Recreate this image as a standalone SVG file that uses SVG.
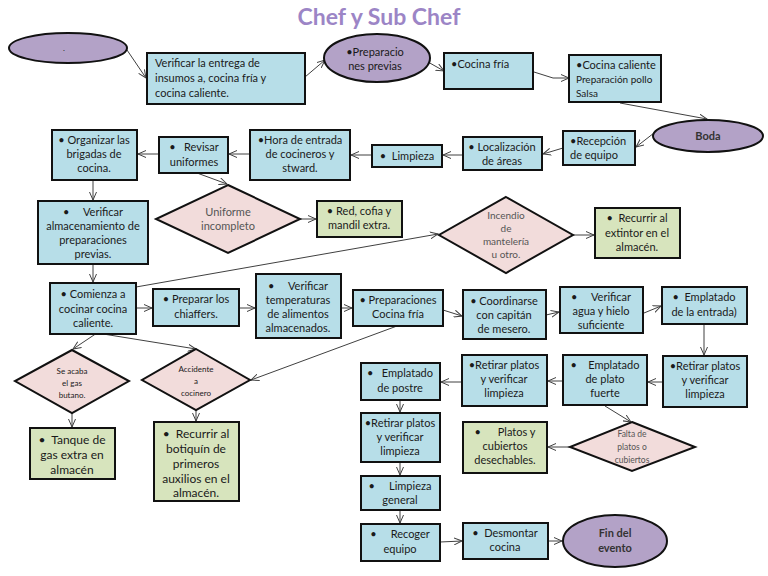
<svg xmlns="http://www.w3.org/2000/svg" width="768" height="576" viewBox="0 0 768 576" xml:space="preserve">
<defs>
<marker id="ar" markerWidth="9" markerHeight="8" refX="8" refY="4" orient="auto" markerUnits="userSpaceOnUse">
<path d="M0,0.5 L8,4 L0,7.5" fill="none" stroke="#404040" stroke-width="1"/>
</marker>
<style>
.b{fill:#b7dee8;stroke:#111;stroke-width:2}
.g{fill:#d7e4bd;stroke:#111;stroke-width:2}
.d{fill:#f2dcdb;stroke:#111;stroke-width:2}
.e{fill:#b3a2c7;stroke:#111;stroke-width:2}
text{font-family:Lato,"Liberation Sans",sans-serif;font-size:11px;fill:#1a1a1a;white-space:pre}
.c{text-anchor:middle}
.dt{fill:#555;text-anchor:middle}
.s{font-size:8px}
.bd{font-weight:bold}
#conn line,#conn polyline{stroke:#404040;stroke-width:1;fill:none;marker-end:url(#ar)}
</style>
</defs>
<rect width="768" height="576" fill="#fff"/>
<text x="379" y="25" class="c" style="font-size:23px;font-weight:bold;fill:#9c85c6">Chef y Sub Chef</text>
<g id="conn">
<line x1="127" y1="50" x2="146" y2="78"/>
<line x1="305" y1="77" x2="325" y2="60"/>
<line x1="428" y1="62" x2="444" y2="71"/>
<polyline points="534,72 553,78 569,78"/>
<line x1="620" y1="103" x2="707" y2="119"/>
<line x1="654" y1="133" x2="636" y2="147"/>
<line x1="563" y1="148" x2="543" y2="154"/>
<line x1="463" y1="155" x2="443" y2="155"/>
<line x1="372" y1="155" x2="351" y2="155"/>
<line x1="250" y1="154" x2="229" y2="154"/>
<line x1="159" y1="154" x2="138" y2="154"/>
<line x1="197" y1="173" x2="227" y2="184"/>
<line x1="93" y1="180" x2="93" y2="200"/>
<line x1="300" y1="219" x2="316" y2="219"/>
<line x1="93" y1="264" x2="93" y2="282"/>
<line x1="136" y1="287" x2="438" y2="234"/>
<line x1="573" y1="235" x2="594" y2="235"/>
<line x1="136" y1="308" x2="152" y2="308"/>
<line x1="239" y1="308" x2="255" y2="308"/>
<line x1="341" y1="308" x2="352" y2="308"/>
<line x1="443" y1="310" x2="462" y2="316"/>
<line x1="546" y1="315" x2="559" y2="312"/>
<line x1="644" y1="313" x2="661" y2="306"/>
<line x1="704" y1="324" x2="704" y2="355"/>
<line x1="663" y1="382" x2="648" y2="382"/>
<line x1="563" y1="381" x2="548" y2="381"/>
<line x1="462" y1="382" x2="441" y2="382"/>
<line x1="400" y1="400" x2="400" y2="412"/>
<line x1="400" y1="462" x2="400" y2="475"/>
<line x1="400" y1="510" x2="400" y2="523"/>
<line x1="440" y1="542" x2="462" y2="541"/>
<line x1="548" y1="541" x2="562" y2="541"/>
<line x1="605" y1="406" x2="631" y2="422"/>
<line x1="570" y1="447" x2="548" y2="447"/>
<line x1="97" y1="333" x2="73" y2="349"/>
<line x1="97" y1="333" x2="196" y2="349"/>
<line x1="397" y1="326" x2="251" y2="380"/>
<line x1="72" y1="413" x2="72" y2="427"/>
<line x1="196" y1="410" x2="196" y2="421"/>
</g>
<g id="n1"><ellipse class="e" cx="68" cy="48" rx="59" ry="15"/><text x="64" y="51" class="c s">.</text></g>
<g id="n2"><rect class="b" x="147" y="53" width="158" height="51"/><text x="155" y="67">Verificar la entrega de</text><text x="155" y="82">insumos a, cocina fría y</text><text x="155" y="97">cocina caliente.</text></g>
<g id="n3"><ellipse class="e" cx="377" cy="58" rx="53" ry="24"/><text x="375" y="56" class="c">•Preparacio</text><text x="375" y="70" class="c">nes previas</text></g>
<g id="n4"><rect class="b" x="444" y="53" width="89" height="36"/><text x="451" y="68">•Cocina fría</text></g>
<g id="n5"><rect class="b" x="569" y="55" width="92" height="47"/><text x="576" y="69">•Cocina caliente</text><text x="576" y="83" style="font-size:10px">Preparación pollo</text><text x="576" y="97" style="font-size:10px">Salsa</text></g>
<g id="n6"><ellipse class="e" cx="708" cy="136" rx="55" ry="16"/><text x="708" y="140" class="c bd" style="fill:#333">Boda</text></g>
<g id="n7"><rect class="b" x="563" y="131" width="72" height="34"/><text x="570" y="145">•Recepción</text><text x="570" y="159">de equipo</text></g>
<g id="n8"><rect class="b" x="463" y="137" width="79" height="33"/><text x="502" y="151" class="c">• Localización</text><text x="502" y="165" class="c">de áreas</text></g>
<g id="n9"><rect class="b" x="372" y="145" width="70" height="22"/><text x="407" y="160" class="c">•  Limpieza</text></g>
<g id="n10"><rect class="b" x="250" y="130" width="100" height="50"/><text x="300" y="144" class="c">•Hora de entrada</text><text x="300" y="158" class="c">de cocineros y</text><text x="300" y="172" class="c">stward.</text></g>
<g id="n11"><rect class="b" x="159" y="137" width="69" height="36"/><text x="194" y="151" class="c">•   Revisar</text><text x="194" y="166" class="c">uniformes</text></g>
<g id="n12"><rect class="b" x="52" y="130" width="85" height="50"/><text x="94" y="144" class="c">• Organizar las</text><text x="94" y="158" class="c">brigadas de</text><text x="94" y="172" class="c">cocina.</text></g>
<g id="n13"><polygon class="d" points="228,185 300,219 228,253 156,219"/><text x="228" y="216" class="dt">Uniforme</text><text x="228" y="230" class="dt">incompleto</text></g>
<g id="n14"><rect class="g" x="317" y="201" width="85" height="36"/><text x="359" y="215" class="c">• Red, cofia y</text><text x="359" y="229" class="c">mandil extra.</text></g>
<g id="n15"><rect class="b" x="38" y="201" width="110" height="63"/><text x="93" y="216" class="c">•     Verificar</text><text x="93" y="230" class="c">almacenamiento de</text><text x="93" y="244" class="c">preparaciones</text><text x="93" y="258" class="c">previas.</text></g>
<g id="n16"><rect class="b" x="50" y="283" width="86" height="51"/><text x="93" y="298" class="c">• Comienza a</text><text x="93" y="313" class="c">cocinar cocina</text><text x="93" y="327" class="c">caliente.</text></g>
<g id="n17"><rect class="b" x="153" y="289" width="86" height="37"/><text x="196" y="303" class="c">• Preparar los</text><text x="196" y="318" class="c">chiaffers.</text></g>
<g id="n18"><rect class="b" x="256" y="274" width="85" height="64"/><text x="298" y="290" class="c">•     Verificar</text><text x="298" y="304" class="c">temperaturas</text><text x="298" y="318" class="c">de alimentos</text><text x="298" y="332" class="c">almacenados.</text></g>
<g id="n19"><rect class="b" x="353" y="290" width="90" height="36"/><text x="398" y="304" class="c">• Preparaciones</text><text x="398" y="318" class="c">Cocina fría</text></g>
<g id="n20"><rect class="b" x="463" y="290" width="83" height="49"/><text x="504" y="305" class="c">• Coordinarse</text><text x="504" y="319" class="c">con capitán</text><text x="504" y="333" class="c">de mesero.</text></g>
<g id="n21"><rect class="b" x="560" y="287" width="83" height="46"/><text x="601" y="301" class="c">•     Verificar</text><text x="601" y="315" class="c">agua y hielo</text><text x="601" y="329" class="c">suficiente</text></g>
<g id="n22"><rect class="b" x="662" y="287" width="85" height="37"/><text x="704" y="301" class="c">•  Emplatado</text><text x="704" y="316" class="c">de la entrada)</text></g>
<g id="n23"><polygon class="d" points="506,197 573,235 506,273 439,235"/><text x="506" y="219" class="dt" style="font-size:10px">Incendio</text><text x="506" y="232" class="dt" style="font-size:10px">de</text><text x="506" y="245" class="dt" style="font-size:10px">mantelería</text><text x="506" y="258" class="dt" style="font-size:10px">u otro.</text></g>
<g id="n24"><rect class="g" x="595" y="208" width="85" height="50"/><text x="637" y="222" class="c">•  Recurrir al</text><text x="637" y="237" class="c">extintor en el</text><text x="637" y="251" class="c">almacén.</text></g>
<g id="n25"><polygon class="d" points="72,350 129,381 72,413 15,381"/><text x="72" y="374" class="c s">Se acaba</text><text x="72" y="386" class="c s">el gas</text><text x="72" y="398" class="c s">butano.</text></g>
<g id="n26"><polygon class="d" points="196,349 250,380 196,410 142,380"/><text x="196" y="372" class="c s">Accidente</text><text x="196" y="384" class="c s">a</text><text x="196" y="396" class="c s">cocinero</text></g>
<g id="n27"><rect class="g" x="30" y="428" width="85" height="51"/><text x="72" y="444" class="c" style="font-size:12px">•  Tanque de</text><text x="72" y="459" class="c" style="font-size:12px">gas extra en</text><text x="72" y="474" class="c" style="font-size:12px">almacén</text></g>
<g id="n28"><rect class="g" x="154" y="422" width="85" height="79"/><text x="196" y="438" class="c" style="font-size:12px">•  Recurrir al</text><text x="196" y="453" class="c" style="font-size:12px">botiquín de</text><text x="196" y="468" class="c" style="font-size:12px">primeros</text><text x="196" y="483" class="c" style="font-size:12px">auxilios en el</text><text x="196" y="497" class="c" style="font-size:12px">almacén.</text></g>
<g id="n29"><rect class="b" x="663" y="356" width="84" height="51"/><text x="705" y="370" class="c">•Retirar platos</text><text x="705" y="384" class="c">y verificar</text><text x="705" y="398" class="c">limpieza</text></g>
<g id="n30"><rect class="b" x="563" y="355" width="84" height="50"/><text x="605" y="369" class="c">•    Emplatado</text><text x="605" y="383" class="c">de plato</text><text x="605" y="397" class="c">fuerte</text></g>
<g id="n31"><rect class="b" x="462" y="355" width="85" height="51"/><text x="504" y="369" class="c">•Retirar platos</text><text x="504" y="383" class="c">y verificar</text><text x="504" y="397" class="c">limpieza</text></g>
<g id="n32"><rect class="b" x="361" y="363" width="79" height="37"/><text x="400" y="377" class="c">•   Emplatado</text><text x="400" y="392" class="c">de postre</text></g>
<g id="n33"><rect class="b" x="361" y="413" width="79" height="49"/><text x="400" y="427" class="c">•Retirar platos</text><text x="400" y="441" class="c">y verificar</text><text x="400" y="455" class="c">limpieza</text></g>
<g id="n34"><rect class="b" x="361" y="476" width="79" height="34"/><text x="400" y="490" class="c">•     Limpieza</text><text x="400" y="504" class="c">general</text></g>
<g id="n35"><rect class="b" x="361" y="524" width="79" height="37"/><text x="400" y="538" class="c">•     Recoger</text><text x="400" y="553" class="c">equipo</text></g>
<g id="n36"><rect class="b" x="463" y="523" width="85" height="36"/><text x="505" y="537" class="c">•  Desmontar</text><text x="505" y="551" class="c">cocina</text></g>
<g id="n37"><ellipse class="e" cx="615" cy="541" rx="52" ry="26"/><text x="615" y="537" class="c bd" style="fill:#333">Fin del</text><text x="615" y="552" class="c bd" style="fill:#333">evento</text></g>
<g id="n38"><rect class="g" x="463" y="422" width="84" height="51"/><text x="505" y="436" class="c">•      Platos y</text><text x="505" y="450" class="c">cubiertos</text><text x="505" y="464" class="c">desechables.</text></g>
<g id="n39"><polygon class="d" points="632,422 695,447 632,471 570,447"/><text x="632" y="437" class="dt" style="font-size:8.5px">Falta de</text><text x="632" y="450" class="dt" style="font-size:8.5px">platos o</text><text x="632" y="463" class="dt" style="font-size:8.5px">cubiertos</text></g>
</svg>
